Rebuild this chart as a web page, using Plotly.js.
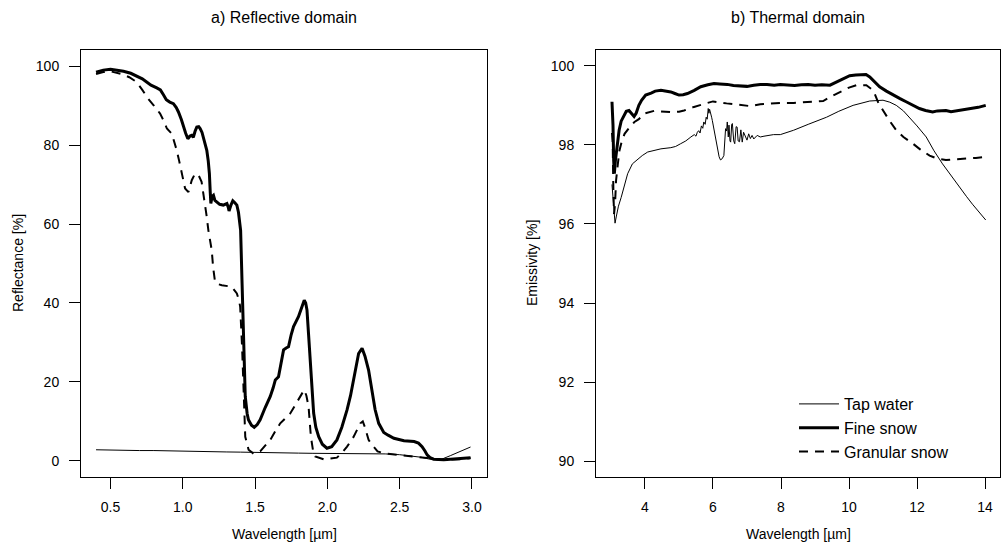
<!DOCTYPE html>
<html>
<head>
<meta charset="utf-8">
<script src="https://cdn.plot.ly/plotly-3.0.1.min.js"></script>
<style>html,body{margin:0;padding:0;background:#fff;}#chart{width:1002px;height:553px;}</style>
</head>
<body>
<div id="chart"></div>
<script>
// ---- a) Reflective domain ----
const reflFineWl = [0.40,0.45,0.50,0.55,0.59,0.64,0.68,0.72,0.75,0.78,0.82,0.845,0.865,0.886,0.91,0.935,0.955,0.97,0.99,1.004,1.02,1.035,1.05,1.062,1.073,1.085,1.097,1.11,1.12,1.133,1.143,1.155,1.166,1.176,1.184,1.19,1.194,1.203,1.212,1.222,1.235,1.255,1.28,1.305,1.315,1.32,1.333,1.346,1.36,1.374,1.385,1.397,1.40,1.41,1.42,1.432,1.445,1.454,1.475,1.494,1.515,1.535,1.57,1.605,1.625,1.64,1.662,1.68,1.697,1.715,1.731,1.75,1.766,1.80,1.82,1.84,1.85,1.859,1.87,1.882,1.895,1.905,1.92,1.94,1.965,1.997,2.03,2.066,2.10,2.136,2.16,2.18,2.20,2.216,2.24,2.26,2.285,2.31,2.33,2.355,2.39,2.42,2.46,2.53,2.60,2.63,2.655,2.675,2.69,2.71,2.735,2.805,2.874,2.943,2.99];
const reflFine   = [98.5,99.0,99.2,99.0,98.7,98.2,97.6,96.8,96.0,95.2,94.5,94.0,92.8,91.5,90.9,90.5,89.5,88.4,86.5,84.6,83.0,81.6,82.3,82.5,82.0,83.5,84.6,84.7,84.2,83.2,82.0,80.5,78.7,76.0,72.8,68.0,65.2,67.0,67.3,66.0,65.6,65.0,64.8,65.2,64.2,63.3,64.8,65.9,65.4,64.8,63.0,60.0,58.4,45.0,33.0,16.3,12.0,10.4,9.0,8.5,9.2,10.4,13.5,16.3,18.5,20.5,21.3,24.5,28.1,28.6,28.9,32.0,34.0,36.5,38.5,40.7,40.0,38.2,32.0,24.7,17.0,12.1,8.5,6.1,4.2,3.2,3.6,5.3,8.5,12.9,16.5,20.5,23.8,27.2,28.5,26.5,23.0,17.0,13.0,9.5,7.2,6.5,5.7,5.1,4.9,4.5,3.6,2.5,1.5,0.8,0.4,0.25,0.4,0.7,0.8];

const reflGranWl = [0.40,0.45,0.50,0.577,0.63,0.68,0.72,0.762,0.80,0.843,0.87,0.89,0.924,0.94,0.958,0.975,0.993,1.005,1.016,1.039,1.05,1.062,1.085,1.11,1.13,1.142,1.154,1.165,1.177,1.19,1.20,1.21,1.223,1.24,1.27,1.339,1.374,1.39,1.397,1.41,1.42,1.432,1.455,1.49,1.535,1.605,1.64,1.674,1.743,1.80,1.84,1.855,1.87,1.886,1.90,1.916,1.974,2.066,2.10,2.136,2.18,2.228,2.245,2.26,2.285,2.31,2.347,2.39,2.50,2.60,2.69,2.80,2.92,2.99];
const reflGran   = [98.0,98.5,98.7,98.0,97.2,96.0,94.0,91.7,90.0,88.0,86.0,84.2,82.9,81.0,78.7,76.0,72.8,70.5,69.0,68.1,69.5,71.1,72.8,72.3,70.7,68.0,65.2,62.0,58.4,55.5,53.4,49.0,45.4,44.8,44.5,44.1,42.4,40.5,39.0,28.9,16.3,6.1,2.8,1.8,2.4,5.3,7.5,9.5,12.0,15.4,18.0,16.5,13.7,6.1,2.8,1.1,0.4,0.8,2.0,3.6,6.0,9.5,10.0,8.5,5.3,4.0,2.4,1.9,1.4,1.1,0.7,0.25,0.4,0.7];

const reflTapWl = [0.40,0.50,0.60,0.70,0.80,0.90,1.00,1.10,1.20,1.30,1.40,1.50,1.60,1.70,1.80,1.90,2.00,2.10,2.20,2.30,2.40,2.50,2.574,2.65,2.712,2.78,2.85,2.92,2.99];
const reflTap   = [2.8,2.7,2.75,2.6,2.6,2.5,2.4,2.45,2.3,2.25,2.2,2.1,2.05,2.0,1.95,1.9,1.85,1.85,1.9,1.85,1.75,1.55,1.3,0.9,0.4,0.25,1.3,2.4,3.5];

// ---- b) Thermal domain ----
const emisFineWl = [3.03,3.06,3.08,3.10,3.13,3.18,3.24,3.30,3.38,3.45,3.53,3.60,3.68,3.74,3.82,3.90,4.02,4.18,4.30,4.47,4.60,4.76,4.88,5.00,5.12,5.25,5.45,5.64,5.85,6.03,6.20,6.42,6.60,6.80,7.00,7.20,7.39,7.59,7.80,7.98,8.20,8.40,8.60,8.80,9.00,9.20,9.44,9.60,9.73,9.90,10.02,10.20,10.41,10.50,10.61,10.75,10.90,11.10,11.29,11.50,11.68,11.90,12.07,12.25,12.46,12.60,12.85,13.00,13.24,13.40,13.63,13.80,14.02];
const emisFine   = [99.09,98.5,97.6,97.27,97.6,98.0,98.37,98.6,98.75,98.85,98.87,98.80,98.72,98.80,99.0,99.13,99.26,99.31,99.36,99.38,99.37,99.34,99.30,99.26,99.27,99.30,99.38,99.47,99.52,99.55,99.54,99.53,99.50,99.49,99.48,99.51,99.53,99.53,99.51,99.53,99.52,99.50,99.52,99.53,99.51,99.52,99.51,99.58,99.64,99.70,99.75,99.77,99.79,99.78,99.72,99.60,99.47,99.36,99.26,99.17,99.09,99.00,98.92,98.87,98.83,98.86,98.87,98.84,98.87,98.90,98.92,98.95,99.0];

const emisGranWl = [3.03,3.05,3.07,3.09,3.12,3.15,3.20,3.25,3.32,3.40,3.55,3.69,3.82,3.98,4.27,4.50,4.76,5.00,5.15,5.44,5.64,5.83,6.00,6.12,6.40,6.61,6.85,7.10,7.39,7.59,7.98,8.37,8.80,9.24,9.44,9.60,9.83,10.00,10.22,10.51,10.65,10.75,10.87,11.00,11.20,11.39,11.60,11.88,12.10,12.37,12.60,12.85,13.24,13.73,14.00];
const emisGran   = [98.3,98.1,96.9,96.25,96.5,97.1,97.5,97.86,98.1,98.28,98.45,98.58,98.65,98.79,98.86,98.85,98.83,98.84,98.87,98.96,99.02,99.06,99.10,99.09,99.05,99.03,99.00,98.98,99.03,99.04,99.06,99.06,99.08,99.11,99.21,99.28,99.38,99.45,99.51,99.51,99.42,99.30,99.05,98.87,98.60,98.37,98.20,98.03,97.88,97.73,97.65,97.62,97.64,97.67,97.70];

const emisTapWl = [3.03,3.07,3.12,3.16,3.22,3.30,3.40,3.49,3.63,3.79,3.92,4.08,4.30,4.47,4.76,4.90,5.05,5.20,5.35,5.45,5.50,5.54,5.58,5.62,5.66,5.70,5.73,5.77,5.80,5.83,5.86,5.88,5.90,5.93,5.96,5.98,6.03,6.08,6.13,6.18,6.22,6.27,6.32,6.35,6.37,6.40,6.42,6.45,6.47,6.50,6.52,6.55,6.57,6.61,6.64,6.68,6.71,6.74,6.78,6.82,6.86,6.90,6.95,7.00,7.05,7.10,7.15,7.20,7.30,7.39,7.50,7.78,7.98,8.37,8.80,9.34,9.70,10.12,10.61,11.00,11.20,11.39,11.60,11.78,12.00,12.27,12.50,12.75,13.00,13.24,13.45,13.63,13.85,14.02];
const emisTap   = [97.0,96.5,96.02,96.2,96.45,96.67,97.0,97.27,97.52,97.65,97.73,97.82,97.87,97.90,97.93,97.96,98.03,98.10,98.20,98.26,98.22,98.32,98.36,98.30,98.48,98.42,98.58,98.52,98.70,98.65,98.92,98.80,98.90,98.75,98.70,98.62,98.41,98.11,97.98,97.70,97.62,97.65,97.73,98.10,98.41,98.35,98.58,98.20,98.50,98.10,98.07,98.52,98.54,98.10,98.03,98.46,98.45,98.10,98.08,98.38,98.07,98.32,98.20,98.12,98.28,98.16,98.24,98.15,98.24,98.20,98.22,98.26,98.26,98.37,98.52,98.70,98.85,99.00,99.11,99.13,99.08,99.00,98.86,98.70,98.48,98.20,97.85,97.52,97.22,96.92,96.70,96.50,96.28,96.10];

const seriesNames = ["Tap water","Fine snow","Granular snow"];
const reflTicks = [0.5,1.0,1.5,2.0,2.5,3.0];
const reflTickText = ["0.5","1.0","1.5","2.0","2.5","3.0"];
const reflYTicks = [0,20,40,60,80,100];
const emisTicks = [4,6,8,10,12,14];
const emisYTicks = [90,92,94,96,98,100];

const FONT = "Liberation Sans, Arial, Helvetica, sans-serif";
const W = 1002, H = 553;
const styleTap  = {color:"black", width:1};
const styleFine = {color:"black", width:3};
const styleGran = {color:"black", width:2, dash:"9px,7px"};

const traces = [
  {x:reflTapWl, y:reflTap, xaxis:"x", yaxis:"y", mode:"lines", line:styleTap, name:seriesNames[0], showlegend:false},
  {x:reflFineWl, y:reflFine, xaxis:"x", yaxis:"y", mode:"lines", line:styleFine, name:seriesNames[1], showlegend:false},
  {x:reflGranWl, y:reflGran, xaxis:"x", yaxis:"y", mode:"lines", line:styleGran, name:seriesNames[2], showlegend:false},
  {x:emisTapWl, y:emisTap, xaxis:"x2", yaxis:"y2", mode:"lines", line:styleTap, name:seriesNames[0]},
  {x:emisFineWl, y:emisFine, xaxis:"x2", yaxis:"y2", mode:"lines", line:styleFine, name:seriesNames[1]},
  {x:emisGranWl, y:emisGran, xaxis:"x2", yaxis:"y2", mode:"lines", line:styleGran, name:seriesNames[2]}
];

const axBase = {
  showline:true, mirror:true, linecolor:"black", linewidth:1,
  ticks:"outside", ticklen:11, tickwidth:1, tickcolor:"black",
  showgrid:false, zeroline:false,
  tickfont:{family:FONT, size:14, color:"black"}
};
const yDom = [(H-477)/H, (H-50)/H];

const layout = {
  width:W, height:H,
  margin:{l:0,r:0,t:0,b:0},
  paper_bgcolor:"white", plot_bgcolor:"white",
  font:{family:FONT, color:"black"},
  xaxis:Object.assign({}, axBase, {domain:[81/W, 487/W], range:[0.296,3.104], tickvals:reflTicks, ticktext:reflTickText, anchor:"y", ticklabelstandoff:6}),
  yaxis:Object.assign({}, axBase, {domain:yDom, range:[-4.1,104.1], tickvals:reflYTicks, anchor:"x", ticklabelstandoff:7}),
  xaxis2:Object.assign({}, axBase, {domain:[596/W, 1000/W], range:[2.56,14.44], tickvals:emisTicks, anchor:"y2", ticklabelstandoff:6}),
  yaxis2:Object.assign({}, axBase, {domain:yDom, range:[89.6,100.4], tickvals:emisYTicks, anchor:"x2", ticklabelstandoff:7}),
  showlegend:true,
  legend:{x:794/W, y:(H-387)/H, xanchor:"left", yanchor:"top", bgcolor:"rgba(0,0,0,0)", borderwidth:0,
          font:{family:FONT, size:16, color:"black"}, tracegroupgap:0, itemwidth:40},
  annotations:[
    {text:"a) Reflective domain", x:284/W, y:(H-18)/H, xref:"paper", yref:"paper", showarrow:false, xanchor:"center", yanchor:"middle", font:{family:FONT, size:16, color:"black"}},
    {text:"b) Thermal domain", x:798/W, y:(H-18)/H, xref:"paper", yref:"paper", showarrow:false, xanchor:"center", yanchor:"middle", font:{family:FONT, size:16, color:"black"}},
    {text:"Wavelength [µm]", x:284/W, y:(H-534)/H, xref:"paper", yref:"paper", showarrow:false, xanchor:"center", yanchor:"middle", font:{family:FONT, size:14, color:"black"}},
    {text:"Wavelength [µm]", x:798/W, y:(H-534)/H, xref:"paper", yref:"paper", showarrow:false, xanchor:"center", yanchor:"middle", font:{family:FONT, size:14, color:"black"}},
    {text:"Reflectance [%]", x:18/W, y:(H-263)/H, xref:"paper", yref:"paper", showarrow:false, xanchor:"center", yanchor:"middle", textangle:-90, font:{family:FONT, size:14, color:"black"}},
    {text:"Emissivity [%]", x:532/W, y:(H-263)/H, xref:"paper", yref:"paper", showarrow:false, xanchor:"center", yanchor:"middle", textangle:-90, font:{family:FONT, size:14, color:"black"}}
  ]
};

Plotly.newPlot("chart", traces, layout, {staticPlot:true, displayModeBar:false});
</script>
</body>
</html>
